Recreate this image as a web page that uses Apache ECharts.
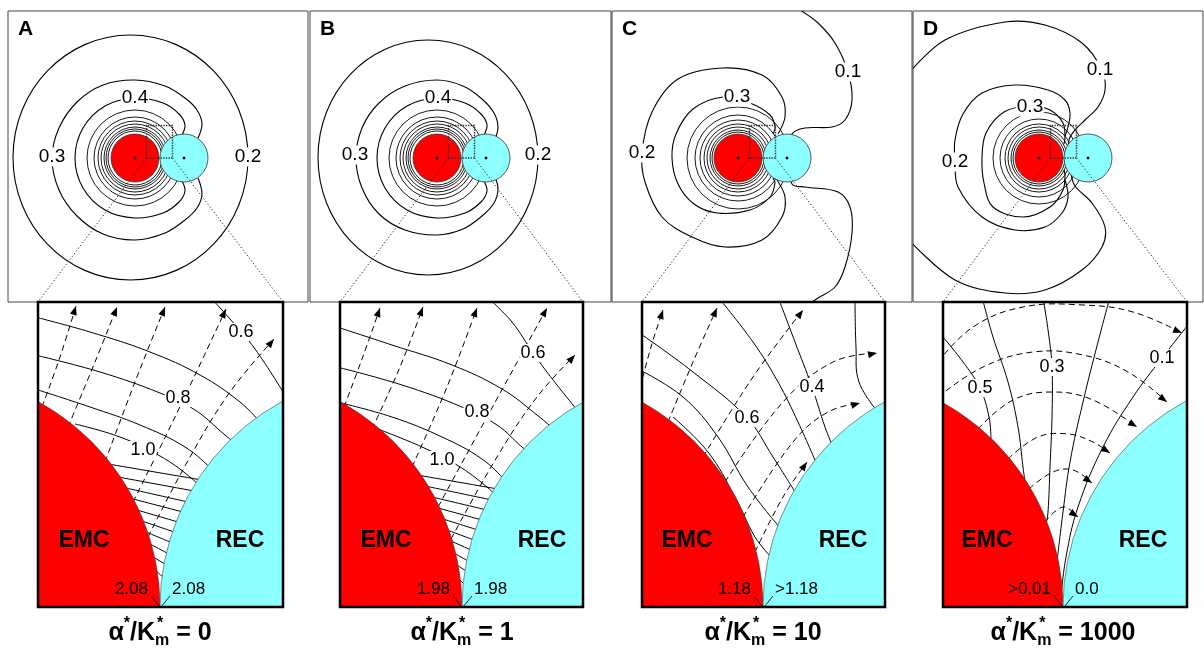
<!DOCTYPE html>
<html><head><meta charset="utf-8">
<script src="https://cdn.jsdelivr.net/npm/echarts/dist/echarts.min.js"></script>
<style>html,body{margin:0;padding:0;background:#fff}#c{width:1204px;height:649px}</style>
</head><body><div id="c"></div>
<script>
// ---------- data ----------
const letters = ['A','B','C','D'];
const ratios = ['0','1','10','1000'];
// top panels: units = px relative to EMC centre, y up
const emcTop = [0,0,24], recTop = [49,0,24];
const zoomRect = [11.5,0,37.5,32.5];
const innerA = [48,41,37,34,31,29,27];
const innerB = [48,41,37,34,31,29,27];
const innerC = [51,43,38,34,31,28,26];
const innerD = [46,39,34,31,28,26];
// outer closed contours as [cx, cy, rx, ry]
const ringsA = [[-4.5,0.5,117.5,122.5]];
const ringsB = [[-9,0.5,110,117.5]];
const ringsC = [];
const ringsD = [];
const curvesA = [
 [[63,20],[67,34],[62,48],[50,60],[30,72],[0,78],[-32,73],[-58,56],[-76,30],[-83,0],[-76,-32],[-58,-58],[-32,-76],[0,-82],[30,-75],[50,-62],[62,-50],[67,-36],[63,-20]],
 [[47,23],[50,33],[44,44],[28,55],[0,60],[-30,52],[-52,30],[-60,0],[-52,-30],[-30,-52],[0,-60],[28,-55],[44,-44],[50,-33],[47,-23]]
];
const curvesB = [
 [[58,19],[61,31],[57,45],[45,59],[26,72],[0,78],[-32,72],[-58,55],[-75,30],[-81,0],[-75,-30],[-58,-56],[-32,-72],[0,-77],[26,-71],[45,-58],[57,-45],[61,-31],[58,-19]],
 [[47,23],[50,33],[44,44],[28,55],[0,60],[-30,52],[-52,30],[-60,0],[-52,-30],[-30,-52],[0,-60],[28,-55],[44,-44],[50,-33],[47,-23]]
];
const curvesC = [
 [[62,148],[80,135],[97,115],[110,86],[114,58],[107,38],[94,31],[67,30],[54,24],[50,0],[54,-26],[67,-29],[100,-34],[112,-49],[114,-75],[107,-109],[97,-129],[80,-140],[65,-150]],
 [[40,24],[47,41],[44,61],[24,83],[-16,90],[-60,79],[-86,46],[-96,5],[-93,-24],[-76,-59],[-46,-79],[-13,-89],[24,-82],[44,-59],[47,-39],[39,-22]],
 [[35,24],[37,31],[32,43],[12,55],[-15,61],[-45,49],[-62,24],[-66,0],[-60,-26],[-44,-46],[-21,-55],[12,-52],[32,-39],[37,-25],[35,-20]]
];
const curvesD = [
 [[-130,85],[-94,118],[-34,136],[6,133],[43,115],[63,88],[66,68],[59,51],[46,38],[36,28],[30,18],[30,0],[32,-16],[36,-28],[53,-45],[66,-69],[63,-89],[43,-112],[6,-132],[-34,-135],[-84,-122],[-130,-82]],
 [[26,22],[29,31],[31,45],[26,58],[9,68],[-24,73],[-57,65],[-76,44],[-84,18],[-84,-4],[-81,-29],[-57,-59],[-24,-72],[6,-69],[23,-55],[29,-39],[26,-22]],
 [[25,14],[26,21],[24,35],[11,48],[-9,52],[-35,46],[-53,25],[-57,1],[-55,-25],[-46,-49],[-16,-59],[11,-49],[24,-32],[26,-17],[25,-12]]
];
const topLabelsA = [['0.4',0,60],['0.3',-83,1],['0.2',113,1]];
const topLabelsB = [['0.4',1,60],['0.3',-82,3],['0.2',101,3]];
const topLabelsC = [['0.1',110,86],['0.3',-1,61],['0.2',-96,5]];
const topLabelsD = [['0.1',61,88],['0.3',-9,51],['0.2',-84,-4]];

// bottom (zoomed) panels: units = px relative to contact point, y up from centre line
const emcBot = [-234,0,234], recBot = [234,0,234];
const botContoursA = [
 [[50,310],[70,288],[95,258],[125,212]],
 [[-125,290],[-70,275],[-10,255],[40,232],[80,205],[100,185]],
 [[-125,252],[-60,235],[0,214],[35,197],[65,172],[80,160]],
 [[-125,218],[-70,200],[-20,182],[25,160],[55,135],[65,125]],
 [[-85,183],[-40,170],[0,151],[30,130],[48,112]],
 [[-52,143],[42,127]],[[-42,130],[34,116]],[[-34,119],[28,105]],[[-27,108],[23,95]],[[-23,97],[18,85]],
 [[-18,86],[14,75]],[[-14,75],[10,65]],[[-10,63],[7,54]],[[-7,50],[5,43]],[[-4,36],[3,30]]
];
const botFluxA = [
 [[-118,200],[-100,250],[-84,301]],
 [[-92,180],[-65,245],[-43,300]],
 [[-55,145],[-25,225],[5,300]],
 [[-27,105],[15,190],[66,298]],
 [[-12,70],[30,150],[70,215],[114,268]]
];
const botContoursB = [
 [[25,310],[50,285],[71,254],[95,222],[125,185]],
 [[-125,280],[-70,262],[-10,242],[40,218],[75,192],[95,175]],
 [[-125,240],[-60,222],[0,200],[35,182],[60,160],[75,148]],
 [[-125,205],[-70,190],[-20,170],[20,148],[45,125],[55,115]],
 [[-84,178],[-40,160],[-5,142],[25,120],[40,105]],
 [[-45,132],[36,118]],[[-37,121],[30,107]],[[-30,110],[25,97]],[[-24,99],[20,87]],[[-19,88],[16,77]],
 [[-15,77],[12,67]],[[-11,66],[9,57]],[[-8,54],[6,46]],[[-5,42],[4,36]],[[-3,28],[2,23]]
];
const botFluxB = [
 [[-118,200],[-100,248],[-82,299]],
 [[-90,178],[-62,240],[-39,300]],
 [[-50,140],[-15,220],[15,299]],
 [[-24,100],[25,190],[85,299]],
 [[-11,68],[35,150],[75,210],[113,252]]
];
const botContoursC = [
 [[92,310],[93,260],[96,225],[115,195]],
 [[15,310],[32,265],[49,220],[62,180],[70,160]],
 [[-45,310],[-10,265],[15,225],[35,185],[55,140]],
 [[-125,275],[-70,235],[-16,189],[10,150],[34,112]],
 [[-125,238],[-80,210],[-45,170],[-15,120],[18,78]],
 [[-90,190],[-55,155],[-28,110],[-8,70],[8,50]]
];
const botFluxC = [
 [[-128,200],[-112,260],[-100,297]],
 [[-95,185],[-70,245],[-46,299]],
 [[-60,150],[-10,230],[40,297]],
 [[-38,125],[20,205],[70,245],[114,254]],
 [[-20,90],[30,165],[65,195],[97,204]],
 [[-8,55],[20,110],[44,145]]
];
const botContoursD = [
 [[-125,276],[-100,245],[-83,219],[-74,190],[-72,168]],
 [[-81,310],[-70,270],[-55,225],[-45,180],[-40,140],[-38,125]],
 [[-20,310],[-14,270],[-11,240],[-11,190],[-13,140],[-15,95],[-17,82]],
 [[47,310],[35,265],[20,205],[7,145],[0,95],[-6,45]],
 [[125,282],[99,249],[70,210],[40,160],[15,100],[3,50],[-2,10]]
];
const botFluxD = [
 [[-125,245],[-90,280],[-40,300],[20,302],[70,295],[119,274]],
 [[-125,210],[-80,240],[-30,255],[20,252],[65,235],[104,205]],
 [[-85,178],[-50,207],[-10,215],[30,207],[74,180]],
 [[-55,148],[-25,170],[5,173],[30,165],[47,154]],
 [[-34,118],[-10,135],[10,137],[29,124]],
 [[-18,85],[0,100],[15,90]]
];
const botLabelsA = [['0.6',81,275],['0.8',18,209],['1.0',-17,157]];
const botLabelsB = [['0.6',71,254],['0.8',15,195],['1.0',-20,147]];
const botLabelsC = [['0.4',49,220],['0.6',-16,189]];
const botLabelsD = [['0.5',-83,219],['0.3',-11,240],['0.1',99,249]];
const surfaceLabels = [['2.08','2.08'],['1.98','1.98'],['1.18','>1.18'],['>0.01','0.0']];
const sphereNames = ['EMC','REC'];

// ---------- layout ----------
const FONT = '"Liberation Sans", Arial, Helvetica, sans-serif';
const RED = '#ff0000', CYAN = '#8cffff';
const topLay = [
 {left:8,width:300,x0:-127,x1:173},{left:310,width:301,x0:-127,x1:174},
 {left:612,width:300,x0:-126,x1:174},{left:913,width:290,x0:-126,x1:164}];
const botLay = [
 {left:38,width:245,x0:-122,x1:123},{left:340,width:243,x0:-122,x1:121},
 {left:642,width:243,x0:-121,x1:122},{left:943,width:244,x0:-120,x1:124}];
const TOP_Y = 11, TOP_H = 291, BOT_Y = 302, BOT_H = 305;

const inners = [innerA,innerB,innerC,innerD];
const rings = [ringsA,ringsB,ringsC,ringsD];
const curves = [curvesA,curvesB,curvesC,curvesD];
const topLabels = [topLabelsA,topLabelsB,topLabelsC,topLabelsD];
const botContours = [botContoursA,botContoursB,botContoursC,botContoursD];
const botFlux = [botFluxA,botFluxB,botFluxC,botFluxD];
const botLabels = [botLabelsA,botLabelsB,botLabelsC,botLabelsD];

function clipOf(p){const c=p.coordSys;return {type:'rect',shape:{x:c.x,y:c.y,width:c.width,height:c.height}};}
function txt(x,y,text,font,align,valign,extra){
  return {type:'text',x:x,y:y,style:Object.assign({text:text,font:font,fill:'#000',
    align:align,textAlign:align,verticalAlign:valign,textVerticalAlign:valign},extra||{})};
}
function polySeries(gi, lines, o){
  return {type:'custom',xAxisIndex:gi,yAxisIndex:gi,silent:true,z:o.z||2,
    data:lines.map((_,k)=>[k]),
    renderItem(params,api){
      const pts=lines[params.dataIndex].map(p=>api.coord(p));
      const st={stroke:'#000',fill:null,lineWidth:o.lw||1};
      if(o.dash) st.lineDash=o.dash;
      const kids=[{type:'polyline',shape:{points:pts,smooth:o.smooth==null?0.4:o.smooth,smoothConstraint:false},style:st}];
      if(o.arrow){
        const a=pts[pts.length-2],b=pts[pts.length-1];
        const an=Math.atan2(b[1]-a[1],b[0]-a[0]),L=9,W=3.5;
        const bx=b[0]-L*Math.cos(an),by=b[1]-L*Math.sin(an);
        kids.push({type:'polygon',shape:{points:[b,[bx-W*Math.sin(an),by+W*Math.cos(an)],[bx+W*Math.sin(an),by-W*Math.cos(an)]]},style:{fill:'#000'}});
      }
      return {type:'group',clipPath:clipOf(params),children:kids};
    }};
}
function circleSeries(gi, circles, o){
  return {type:'custom',xAxisIndex:gi,yAxisIndex:gi,silent:true,z:o.z,
    data:circles.map(c=>[c[0],c[1],c[2]]),
    renderItem(params,api){
      const c=api.coord([api.value(0),api.value(1)]);
      const r=api.size([api.value(2),api.value(2)])[0];
      const fill=o.fills?o.fills[params.dataIndex]:null;
      return {type:'group',clipPath:clipOf(params),children:[{type:'circle',shape:{cx:c[0],cy:c[1],r:r},
        style:{fill:fill,stroke:o.stroke||'#000',lineWidth:o.lw||1}}]};
    }};
}
function ellipseSeries(gi, list, o){
  return {type:'custom',xAxisIndex:gi,yAxisIndex:gi,silent:true,z:o.z,
    data:list.map(c=>[c[0],c[1],c[2],c[3]]),
    renderItem(params,api){
      const c=api.coord([api.value(0),api.value(1)]);
      const s=api.size([api.value(2),api.value(3)]);
      return {type:'group',clipPath:clipOf(params),children:[{type:'ellipse',shape:{cx:c[0],cy:c[1],rx:s[0],ry:s[1]},
        style:{fill:null,stroke:'#000',lineWidth:o.lw||1}}]};
    }};
}
function labelSeries(gi, labels, font, z){
  return {type:'custom',xAxisIndex:gi,yAxisIndex:gi,silent:true,z:z,
    data:labels.map(l=>[l[1],l[2]]),
    renderItem(params,api){
      const c=api.coord([api.value(0),api.value(1)]);
      return txt(c[0],c[1],labels[params.dataIndex][0],font,'center','middle',{backgroundColor:'#fff',padding:[0,1,0,1]});
    }};
}

const grid=[],xAxis=[],yAxis=[],series=[];
topLay.forEach((g,i)=>{
  grid.push({left:g.left,top:TOP_Y,width:g.width,height:TOP_H,show:true,borderColor:'#444',borderWidth:1,backgroundColor:'#fff'});
  xAxis.push({type:'value',gridIndex:i,min:g.x0,max:g.x1,show:false});
  yAxis.push({type:'value',gridIndex:i,min:-144,max:147,show:false});
});
botLay.forEach((g,i)=>{
  grid.push({left:g.left,top:BOT_Y,width:g.width,height:BOT_H,show:false});
  xAxis.push({type:'value',gridIndex:4+i,min:g.x0,max:g.x1,show:false});
  yAxis.push({type:'value',gridIndex:4+i,min:0,max:305,show:false});
});

for(let i=0;i<4;i++){
  series.push(circleSeries(i, inners[i].map(r=>[emcTop[0],emcTop[1],r]), {z:2,stroke:'#000',lw:0.9}));
  series.push(ellipseSeries(i, rings[i], {z:2,lw:1.1}));
  series.push(polySeries(i, curves[i], {smooth:0.35,lw:1.1}));
  series.push(circleSeries(i, [emcTop,recTop], {z:3,fills:[RED,CYAN],stroke:'#333',lw:0.8}));
  series.push(circleSeries(i, [[emcTop[0],emcTop[1],1.2],[recTop[0],recTop[1],1.2]], {z:4,fills:['#000','#000'],stroke:'#000',lw:0.5}));
  series.push({type:'custom',xAxisIndex:i,yAxisIndex:i,silent:true,z:5,data:[zoomRect],
    renderItem(params,api){
      const a=api.coord([api.value(0),api.value(1)]),b=api.coord([api.value(2),api.value(3)]);
      return {type:'polygon',shape:{points:[[a[0],a[1]],[a[0],b[1]],[b[0],b[1]],[b[0],a[1]]]},
        style:{fill:null,stroke:'#333',lineWidth:1.4,lineDash:[1.4,1.2]}};
    }});
  series.push(labelSeries(i, topLabels[i], '19px '+FONT, 6));
}
for(let i=0;i<4;i++){
  const gi=4+i;
  series.push(polySeries(gi, botContours[i], {smooth:0.4,lw:1}));
  series.push(polySeries(gi, botFlux[i], {smooth:0.4,lw:1,dash:[6,4],arrow:true}));
  series.push(circleSeries(gi, [emcBot,recBot], {z:3,fills:[RED,CYAN],stroke:'#444',lw:0.6}));
  series.push(labelSeries(gi, botLabels[i], '18px '+FONT, 6));
  series.push({type:'custom',xAxisIndex:gi,yAxisIndex:gi,silent:true,z:6,data:[[0,0]],
    renderItem(params,api){
      const c0=api.coord([0,0]);
      const l1=api.coord([-9,11]),r1=api.coord([10,11]);
      const tl=api.coord([-12,18]),tr=api.coord([12,18]);
      const e=api.coord([-76,66]),r=api.coord([80,66]);
      const f='17px '+FONT,fb='bold 23px '+FONT;
      return {type:'group',children:[
        {type:'line',shape:{x1:l1[0],y1:l1[1],x2:c0[0],y2:c0[1]},style:{stroke:'#000',lineWidth:0.8}},
        {type:'line',shape:{x1:r1[0],y1:r1[1],x2:c0[0]+1,y2:c0[1]},style:{stroke:'#000',lineWidth:0.8}},
        txt(tl[0],tl[1],surfaceLabels[i][0],f,'right','middle'),
        txt(tr[0],tr[1],surfaceLabels[i][1],f,'left','middle'),
        txt(e[0],e[1],sphereNames[0],fb,'center','middle'),
        txt(r[0],r[1],sphereNames[1],fb,'center','middle')
      ]};
    }});
}

const chart=echarts.init(document.getElementById('c'),null,{renderer:'canvas'});
chart.setOption({animation:false,backgroundColor:'#fff',grid,xAxis,yAxis,series});

// ---------- overlay graphics (frames, connectors, letters, captions) ----------
const ctx=document.createElement('canvas').getContext('2d');
function tw(s,f){ctx.font=f;return ctx.measureText(s).width;}
const gfx=[];
botLay.forEach((g,i)=>{
  gfx.push({type:'rect',z:100,shape:{x:g.left,y:BOT_Y,width:g.width,height:BOT_H},style:{fill:null,stroke:'#000',lineWidth:2.5}});
  const a=chart.convertToPixel({gridIndex:i},[zoomRect[0],zoomRect[1]]);
  const b=chart.convertToPixel({gridIndex:i},[zoomRect[2],zoomRect[1]]);
  gfx.push({type:'line',z:99,shape:{x1:a[0],y1:a[1],x2:g.left,y2:BOT_Y},style:{stroke:'#222',lineWidth:1,lineDash:[1.2,2.2]}});
  gfx.push({type:'line',z:99,shape:{x1:b[0],y1:b[1],x2:g.left+g.width,y2:BOT_Y},style:{stroke:'#222',lineWidth:1,lineDash:[1.2,2.2]}});
  const cx=chart.convertToPixel({gridIndex:4+i},[0,0])[0];
  const fb='bold 25px '+FONT, fs='bold 16px '+FONT;
  const wA=tw('α',fb),wS=tw('*',fs),wK=tw('/K',fb),wM=tw('m',fs),wE=tw(' = '+ratios[i],fb);
  let x=cx-(wA+wS+wK+wM+wE)/2;
  const yM=633;
  const mk=(s,xx,yy,f)=>({type:'text',z:100,x:xx,y:yy,style:{text:s,font:f,fill:'#000',textAlign:'left',align:'left',textVerticalAlign:'middle',verticalAlign:'middle'}});
  gfx.push(mk('α',x,yM,fb)); x+=wA;
  gfx.push(mk('*',x,yM-9,fs)); x+=wS;
  gfx.push(mk('/K',x,yM,fb)); x+=wK;
  gfx.push(mk('*',x+2,yM-9,fs)); gfx.push(mk('m',x,yM+8,fs)); x+=wM;
  gfx.push(mk(' = '+ratios[i],x,yM,fb));
});
topLay.forEach((g,i)=>{
  gfx.push({type:'text',z:100,x:g.left+10,y:TOP_Y+18,style:{text:letters[i],font:'bold 21px '+FONT,fill:'#000',textAlign:'left',align:'left',textVerticalAlign:'middle',verticalAlign:'middle'}});
});
chart.setOption({graphic:gfx});
</script></body></html>
